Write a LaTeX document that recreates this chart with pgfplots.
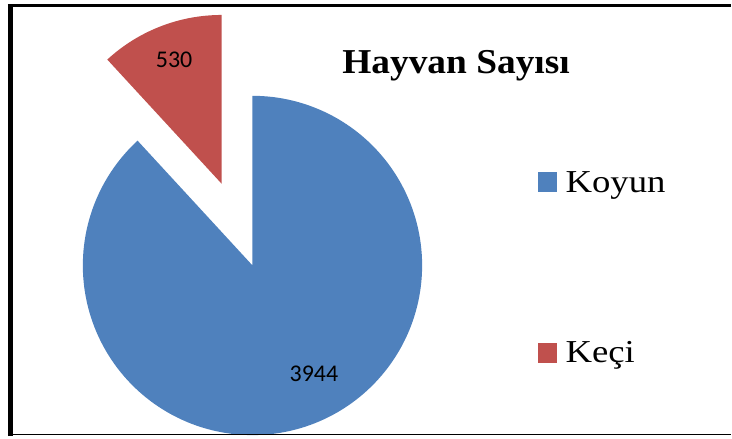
\documentclass[border=0pt]{standalone}
\usepackage{pgfplots}
\pgfplotsset{compat=1.18}
\usepackage{fontspec}
\setmainfont{Liberation Serif}
\newfontfamily\calibri{Carlito}
\definecolor{koyun}{HTML}{4F81BD}
\definecolor{keci}{HTML}{C0504D}
\begin{document}
\begin{tikzpicture}
\pgfmathsetmacro{\vKoyun}{3944}
\pgfmathsetmacro{\vKeci}{530}
\pgfmathsetmacro{\frac}{\vKeci/(\vKoyun+\vKeci)}
\pgfmathsetmacro{\aKeci}{90+360*\frac}
\begin{axis}[
  scale only axis, width=732bp, height=437bp,
  xmin=0, xmax=732, ymin=0, ymax=437,
  hide axis, clip=false,
]
\path (axis cs:0,0) rectangle (axis cs:732,437);
% Koyun slice
\addplot[fill=koyun, draw=none, domain=\aKeci:450, samples=181]
  ({253+170*cos(x)},{171+170*sin(x)}) -- (axis cs:253,171) -- cycle;
% Keci slice (exploded)
\addplot[fill=keci, draw=none, domain=90:\aKeci, samples=41]
  ({222+169*cos(x)},{253+169*sin(x)}) -- (axis cs:222,253) -- cycle;
% value labels
\node[anchor=base west, inner sep=0pt, font=\calibri\fontsize{24bp}{28bp}\selectfont] at (axis cs:156,369.7) {530};
\node[anchor=base west, inner sep=0pt, font=\calibri\fontsize{24bp}{28bp}\selectfont] at (axis cs:290,55) {3944};
% title
\node[anchor=base, inner sep=0pt, font=\bfseries\fontsize{35bp}{40bp}\selectfont] at (axis cs:457,363.5) {\scalebox{1.07}[1]{Hayvan Sayısı}};
% legend
\fill[koyun] (axis cs:539,245) rectangle (axis cs:558,265);
\node[anchor=base west, inner sep=0pt, font=\fontsize{32bp}{36bp}\selectfont] at (axis cs:566.5,244) {\scalebox{1.15}[1]{Koyun}};
\fill[keci] (axis cs:539,73) rectangle (axis cs:558,93);
\node[anchor=base west, inner sep=0pt, font=\fontsize{32bp}{36bp}\selectfont] at (axis cs:566.5,74) {\scalebox{1.15}[1]{Keçi}};
% frame
\draw[line width=5bp] (axis cs:10.5,0) -- (axis cs:10.5,433);
\draw[line width=3bp] (axis cs:8,431.5) -- (axis cs:732,431.5);
\draw[line width=1.3bp] (axis cs:8,1.5) -- (axis cs:732,1.5);
\end{axis}
\end{tikzpicture}
\end{document}
